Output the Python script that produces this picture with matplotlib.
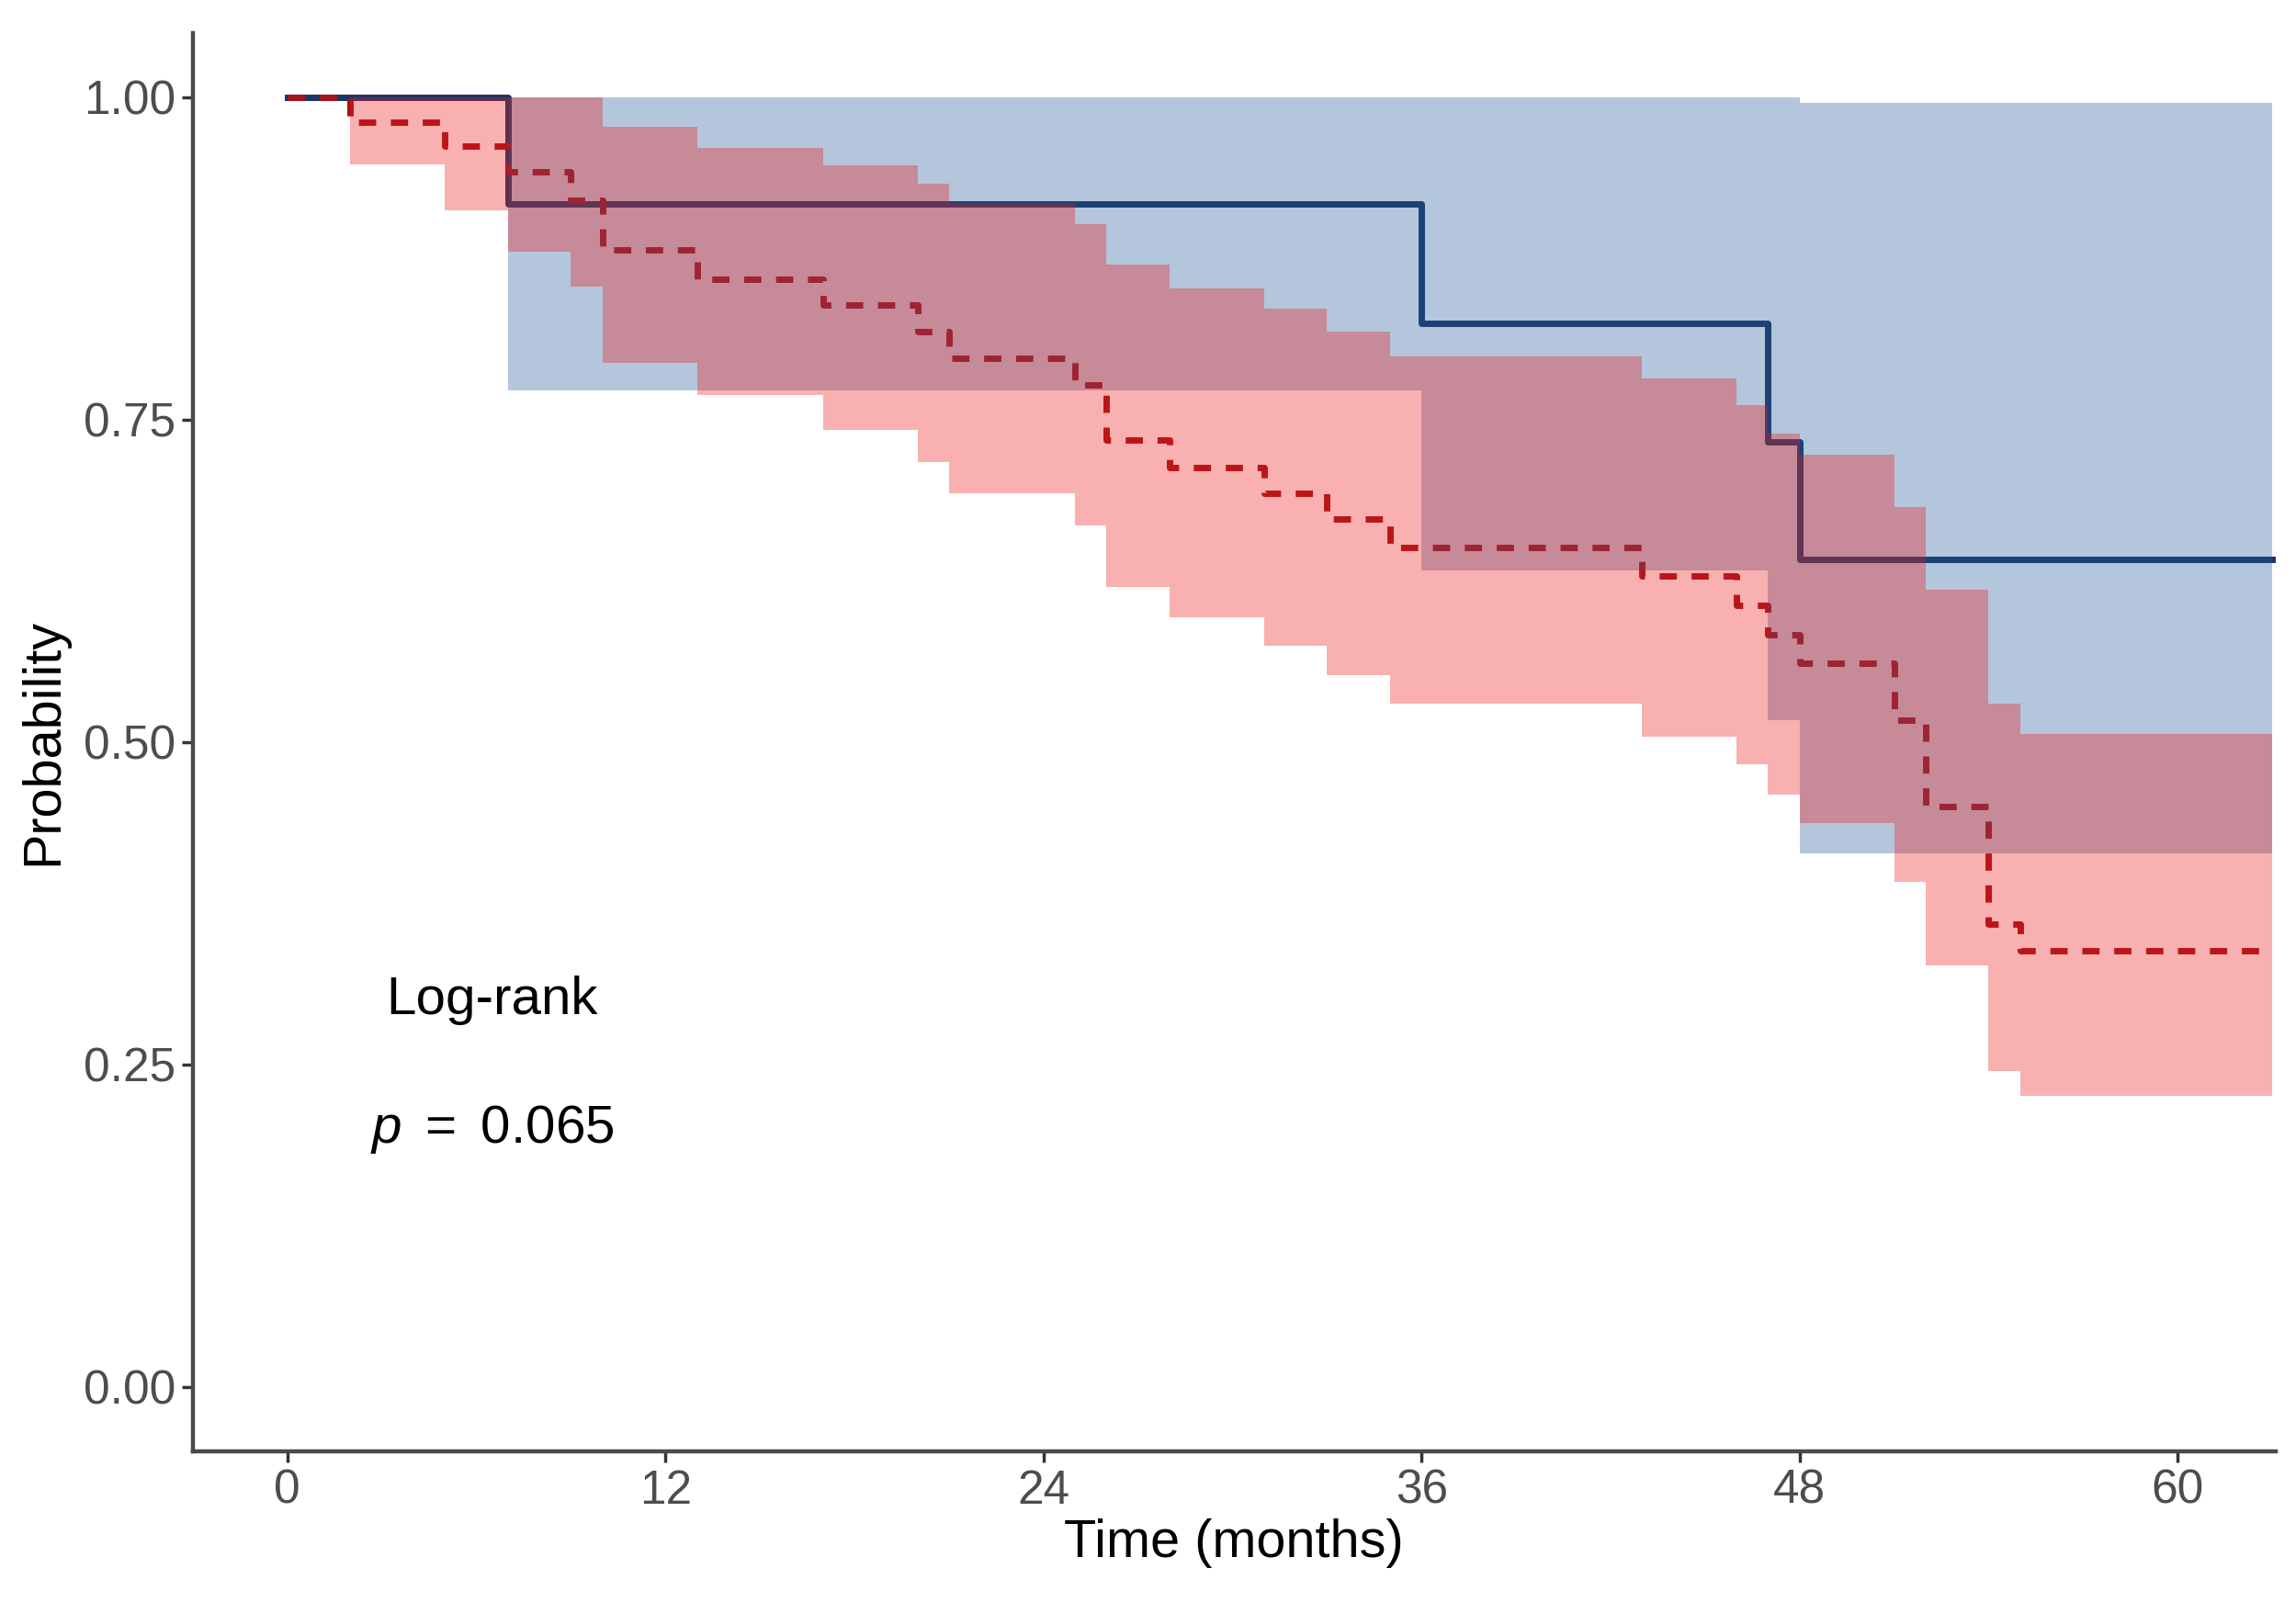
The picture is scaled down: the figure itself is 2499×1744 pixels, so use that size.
import matplotlib
matplotlib.use("Agg")
import matplotlib.pyplot as plt

plt.rcParams['font.family'] = ['Liberation Sans', 'DejaVu Sans']
plt.rcParams['mathtext.fontset'] = 'custom'
plt.rcParams['mathtext.it'] = 'Liberation Sans:italic'
plt.rcParams['mathtext.rm'] = 'Liberation Sans'

# Kaplan-Meier estimates (months, survival probability)
blue_t = [0, 7, 36, 47, 48, 63]
blue_s = [1.0, 0.917, 0.825, 0.733, 0.642, 0.642]
blue_up = [1.0, 1.0, 1.0, 1.0, 0.996, 0.996]
blue_lo = [1.0, 0.773, 0.633, 0.517, 0.414, 0.414]

red_t = [0, 2, 5, 7, 9, 10, 13, 17, 20, 21, 25, 26, 28, 31, 33, 35, 43, 46,
         47, 48, 51, 52, 54, 55, 63]
red_s = [1.0, 0.981, 0.962, 0.942, 0.92, 0.882, 0.859, 0.839, 0.818, 0.798,
         0.777, 0.734, 0.713, 0.693, 0.673, 0.651, 0.629, 0.606, 0.583, 0.561,
         0.517, 0.45, 0.359, 0.338, 0.338]
red_up = [1.0, 1.0, 1.0, 1.0, 1.0, 0.977, 0.961, 0.947, 0.933, 0.918, 0.902,
          0.870, 0.852, 0.836, 0.818, 0.799, 0.782, 0.761, 0.739, 0.723, 0.682,
          0.618, 0.53, 0.506, 0.506]
red_lo = [1.0, 0.948, 0.912, 0.88, 0.853, 0.794, 0.769, 0.742, 0.717, 0.693,
          0.668, 0.62, 0.597, 0.575, 0.552, 0.53, 0.504, 0.483, 0.459, 0.437,
          0.392, 0.327, 0.245, 0.226, 0.226]

x_ticks = [0, 12, 24, 36, 48, 60]
y_ticks = [0.0, 0.25, 0.5, 0.75, 1.0]
p_value = "0.065"

fig = plt.figure(figsize=(24.99, 17.44), dpi=100)
ax = fig.add_axes([0.084, 0.094, 0.907, 0.8855])

# curves first, ribbons drawn on top (survminer style)
ax.step(blue_t, blue_s, where='post', color='#1a3566', lw=5, zorder=1)
ax.step(red_t, red_s, where='post', color='#a51418', lw=5,
        linestyle=(0, (2.7, 2.3)), zorder=1)
ax.fill_between(blue_t, blue_lo, blue_up, step='post', color='#205996',
                alpha=0.34, lw=0, zorder=2)
ax.fill_between(red_t, red_lo, red_up, step='post', color='#eb1818',
                alpha=0.34, lw=0, zorder=3)

ax.text(6.5, 0.30, "Log-rank", fontsize=42, ha='center', va='center')
ax.text(6.5, 0.20, "$p$ $=$ " + p_value, fontsize=42, ha='center', va='center')

ax.set_xlim(-3.0, 63.1)
ax.set_ylim(-0.05, 1.05)
ax.set_xticks(x_ticks)
ax.set_yticks(y_ticks)
ax.set_yticklabels([f"{v:.2f}" for v in y_ticks])

for side in ['top', 'right']:
    ax.spines[side].set_visible(False)
for side in ['left', 'bottom']:
    ax.spines[side].set_color('#4a4a4a')
    ax.spines[side].set_linewidth(3.2)
ax.tick_params(axis='both', length=8.5, width=2.5, color='#333333',
               labelsize=37, labelcolor='#4d4d4d', pad=5)

ax.set_xlabel("Time (months)", fontsize=41.5, labelpad=4)
ax.set_ylabel("Probability", fontsize=41.5, labelpad=12)

fig.savefig("out.png", dpi=100)
